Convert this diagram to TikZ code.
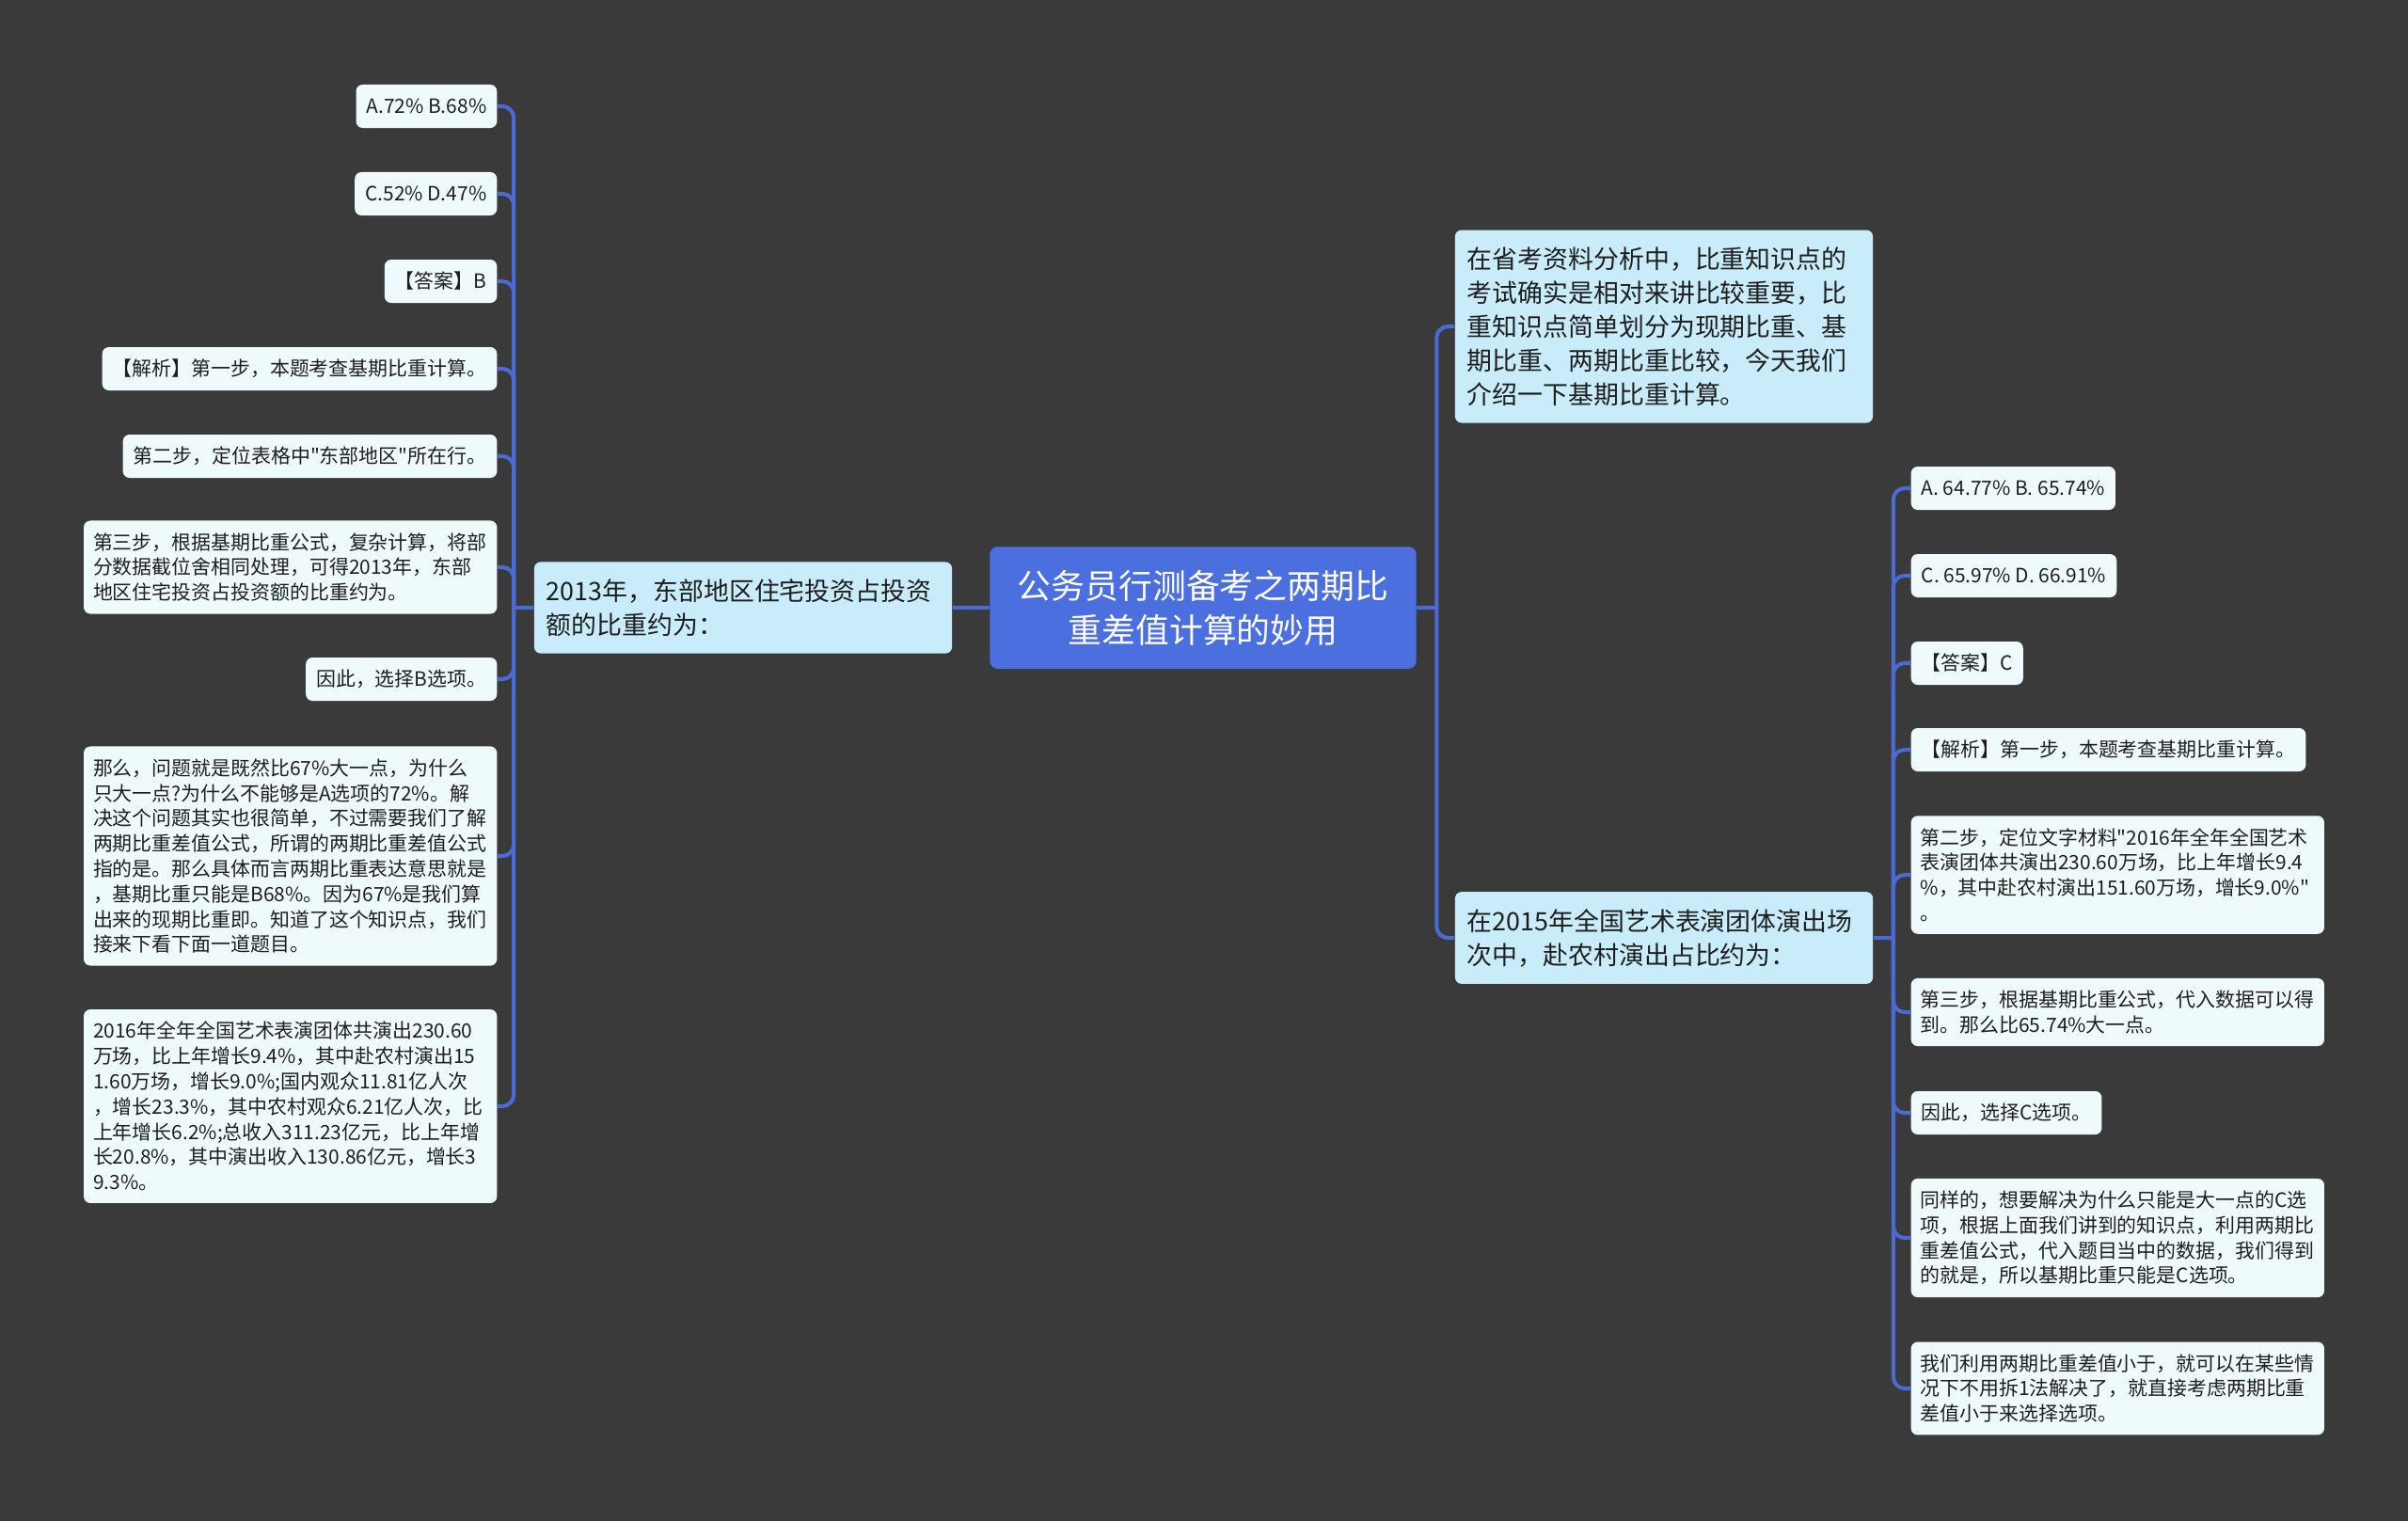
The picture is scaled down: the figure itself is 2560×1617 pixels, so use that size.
\documentclass[tikz,border=0pt]{standalone}
\usepackage{fontspec}
\setmainfont{Noto Sans CJK SC}[Ligatures=TeXOff]
\usepackage{tikz}
\definecolor{gwyBg}{HTML}{3B3A3A}
\definecolor{gwyBlue}{HTML}{4B6FDE}
\definecolor{gwyLine}{HTML}{4A6AD6}
\definecolor{gwyTopic}{HTML}{C9ECFB}
\definecolor{gwyLeaf}{HTML}{EFFAFD}
\definecolor{gwyInk}{HTML}{1E1E1E}
\tikzset{
  rootbox/.style={fill=gwyBlue, text=white, rounded corners=0.08cm, inner xsep=0.28cm, inner ysep=0.245cm,
    text width=3.97cm, align=center, font=\fontsize{10.2}{13.4}\selectfont},
  topicbox/.style={fill=gwyTopic, text=gwyInk, rounded corners=0.07cm, inner xsep=0.13cm, inner ysep=0.18cm,
    text width=4.18cm, align=left, font=\fontsize{7.65}{10.24}\selectfont},
  leafbox/.style={fill=gwyLeaf, text=gwyInk, rounded corners=0.07cm, inner xsep=0.11cm, inner ysep=0cm,
    minimum height=0.46cm, font=\fontsize{5.95}{7.62}\selectfont},
  notebox/.style={leafbox, inner xsep=0.1cm, inner ysep=0.13cm, text width=4.19cm, align=left},
  link/.style={draw=gwyLine, line width=1.15pt, rounded corners=0.12cm},
}

\begin{document}
\begin{tikzpicture}[x=0.01cm, y=-0.01cm]
  \fill[gwyBg] (0,0) rectangle (2560,1617);

  \node[rootbox] (root) at (1279,646) {公务员行测备考之两期比\\重差值计算的妙用};
  \node[topicbox] (tl) at (790,646) {2013年，东部地区住宅投资占投资\\额的比重约为：};
  \node[topicbox] (ta) at (1769,347) {在省考资料分析中，比重知识点的\\考试确实是相对来讲比较重要，比\\重知识点简单划分为现期比重、基\\期比重、两期比重比较，今天我们\\介绍一下基期比重计算。};
  \node[topicbox] (tb) at (1769,997) {在2015年全国艺术表演团体演出场\\次中，赴农村演出占比约为：};

  \coordinate (lj) at ([xshift=-0.21cm]tl.west);
  \coordinate (rj) at ([xshift=0.21cm]root.east);
  \coordinate (bj) at ([xshift=0.21cm]tb.east);

  \draw[link] (root.west) -- (tl.east);
  \draw[link] (tl.west) -- (lj);
  \draw[link] (root.east) -- (rj);
  \draw[link] (rj) |- (ta.west);
  \draw[link] (rj) |- (tb.west);
  \draw[link] (tb.east) -- (bj);

  % left side
  \foreach \i/\y/\txt in {1/113/{A.72\% B.68\%}, 2/206/{C.52\% D.47\%}, 3/299/{【答案】B},
      4/392/{【解析】第一步，本题考查基期比重计算。}, 5/485/{第二步，定位表格中"东部地区"所在行。},
      7/722/{因此，选择B选项。}} {
    \node[leafbox, anchor=east] (la\i) at (529,\y) {\txt};
    \draw[link] (lj) |- (la\i.east);
  }
  \foreach \i/\y/\txt in {
      6/603/{第三步，根据基期比重公式，复杂计算，将部\\分数据截位舍相同处理，可得2013年，东部\\地区住宅投资占投资额的比重约为。},
      8/910/{那么，问题就是既然比67\%大一点，为什么\\只大一点?为什么不能够是A选项的72\%。解\\决这个问题其实也很简单，不过需要我们了解\\两期比重差值公式，所谓的两期比重差值公式\\指的是。那么具体而言两期比重表达意思就是\\，基期比重只能是B68\%。因为67\%是我们算\\出来的现期比重即。知道了这个知识点，我们\\接来下看下面一道题目。},
      9/1176/{2016年全年全国艺术表演团体共演出230.60\\万场，比上年增长9.4\%，其中赴农村演出15\\1.60万场，增长9.0\%;国内观众11.81亿人次\\，增长23.3\%，其中农村观众6.21亿人次，比\\上年增长6.2\%;总收入311.23亿元，比上年增\\长20.8\%，其中演出收入130.86亿元，增长3\\9.3\%。}} {
    \node[notebox, anchor=east] (la\i) at (529,\y) {\txt};
    \draw[link] (lj) |- (la\i.east);
  }

  % right side
  \foreach \i/\y/\txt in {1/519/{A. 64.77\% B. 65.74\%}, 2/612/{C. 65.97\% D. 66.91\%}, 3/705/{【答案】C},
      4/797/{【解析】第一步，本题考查基期比重计算。}, 7/1183/{因此，选择C选项。}} {
    \node[leafbox, anchor=west] (rb\i) at (2031,\y) {\txt};
    \draw[link] (bj) |- (rb\i.west);
  }
  \foreach \i/\y/\txt in {
      5/930/{第二步，定位文字材料"2016年全年全国艺术\\表演团体共演出230.60万场，比上年增长9.4\\\%，其中赴农村演出151.60万场，增长9.0\%"\\。},
      6/1076/{第三步，根据基期比重公式，代入数据可以得\\到。那么比65.74\%大一点。},
      8/1316/{同样的，想要解决为什么只能是大一点的C选\\项，根据上面我们讲到的知识点，利用两期比\\重差值公式，代入题目当中的数据，我们得到\\的就是，所以基期比重只能是C选项。},
      9/1476/{我们利用两期比重差值小于，就可以在某些情\\况下不用拆1法解决了，就直接考虑两期比重\\差值小于来选择选项。}} {
    \node[notebox, anchor=west] (rb\i) at (2031,\y) {\txt};
    \draw[link] (bj) |- (rb\i.west);
  }
\end{tikzpicture}
\end{document}
